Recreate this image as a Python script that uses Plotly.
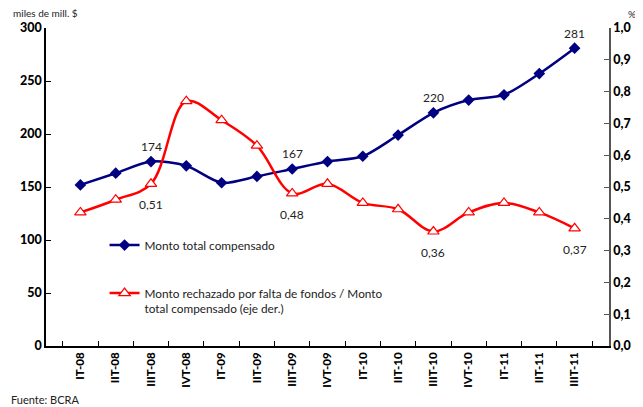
import plotly.graph_objects as go

# Trimestres
trimestres = ['IT-08', 'IIT-08', 'IIIT-08', 'IVT-08', 'IT-09', 'IIT-09', 'IIIT-09', 'IVT-09',
              'IT-10', 'IIT-10', 'IIIT-10', 'IVT-10', 'IT-11', 'IIT-11', 'IIIT-11']

# Monto total compensado (miles de mill. $) - eje izq.
monto_total = [152, 163, 174, 170, 154, 160, 167, 174, 179, 199, 220, 232, 237, 257, 281]

# Monto rechazado / monto total (%) - eje der.
ratio_rechazo = [0.42, 0.46, 0.51, 0.77, 0.71, 0.63, 0.48, 0.51, 0.45, 0.43, 0.36, 0.42, 0.45, 0.42, 0.37]

# puntos con etiqueta
etiq_azul = ['IIIT-08', 'IIIT-09', 'IIIT-10', 'IIIT-11']
etiq_rojo = ['IIIT-08', 'IIIT-09', 'IIIT-10', 'IIIT-11']

azul = '#000080'
rojo = '#ff0000'
fuente = 'Lato'

fig = go.Figure()

fig.add_trace(go.Scatter(
    x=trimestres, y=monto_total,
    name='Monto total compensado',
    mode='lines+markers',
    line=dict(color=azul, width=2.5, shape='spline', smoothing=0.8),
    marker=dict(symbol='diamond', size=9, color=azul),
    legendgroup='a',
))

fig.add_trace(go.Scatter(
    x=trimestres, y=ratio_rechazo,
    name='Monto rechazado por falta de fondos / Monto<br>total compensado (eje der.)',
    mode='lines+markers',
    yaxis='y2',
    line=dict(color=rojo, width=2.5, shape='spline', smoothing=1),
    marker=dict(symbol='triangle-up', size=10, color='white', line=dict(color=rojo, width=1.2)),
    legendgroup='b',
))

# etiquetas de datos
anot = []
for t in etiq_azul:
    i = trimestres.index(t)
    anot.append(dict(x=t, y=monto_total[i], xref='x', yref='y', text=str(monto_total[i]),
                     showarrow=False, yshift=15, font=dict(size=12, color='#222', family=fuente)))
for t in etiq_rojo:
    i = trimestres.index(t)
    anot.append(dict(x=t, y=ratio_rechazo[i], xref='x', yref='y2',
                     text=('%.2f' % ratio_rechazo[i]).replace('.', ','),
                     showarrow=False, yshift=-21, font=dict(size=12, color='#222', family=fuente)))

# textos fijos
anot.append(dict(x=0, y=1.0, xref='paper', yref='paper', xanchor='left', yanchor='bottom',
                 xshift=-35, yshift=7, text='miles de mill. $', showarrow=False,
                 font=dict(size=10, color='#222', family=fuente)))
anot.append(dict(x=1, y=1.0, xref='paper', yref='paper', xanchor='right', yanchor='bottom',
                 xshift=29, yshift=6, text='%', showarrow=False,
                 font=dict(size=10, color='#222', family=fuente)))
anot.append(dict(x=0, y=0, xref='paper', yref='paper', xanchor='left', yanchor='top',
                 xshift=-37, yshift=-45, text='Fuente: BCRA', showarrow=False,
                 font=dict(size=11, color='#222', family=fuente)))

# la pagina tiene un margen de 8px, por eso la figura es algo menor que la ventana
fig.update_layout(
    width=635, height=399,
    margin=dict(l=36, r=29, t=20, b=61),
    plot_bgcolor='white', paper_bgcolor='white',
    separators=',.',
    font=dict(family=fuente, color='#222'),
    showlegend=True,
    legend=dict(x=0.104, y=0.362, xanchor='left', yanchor='top', bgcolor='rgba(0,0,0,0)',
                traceorder='grouped', tracegroupgap=29, valign='top', itemwidth=30,
                font=dict(size=11.8, color='#222', family=fuente)),
    xaxis=dict(type='category', showline=True, linecolor='black', linewidth=1.5,
               ticks='inside', tickson='boundaries', ticklen=5, tickcolor='black',
               tickangle=-90, tickfont=dict(size=11.5, color='black', family=fuente + ' Black'),
               showgrid=False, zeroline=False),
    yaxis=dict(range=[0, 300], dtick=50, showline=True, linecolor='black', linewidth=1.5,
               ticks='inside', ticklen=5, tickcolor='black', showgrid=False, zeroline=False,
               tickfont=dict(size=12.5, color='black', family=fuente + ' Black')),
    yaxis2=dict(range=[0, 1], dtick=0.1, tickformat='.1f', overlaying='y', side='right',
                showline=True, linecolor='#555', linewidth=1.5, ticks='inside', ticklen=5,
                tickcolor='#555', showgrid=False, zeroline=False,
                tickfont=dict(size=12.5, color='black', family=fuente + ' Black')),
    annotations=anot,
)

fig.write_html('out.html')
